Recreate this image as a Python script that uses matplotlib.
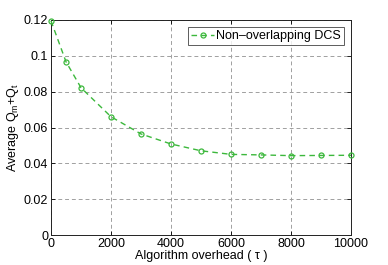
import matplotlib
matplotlib.use("Agg")
import matplotlib.pyplot as plt
import numpy as np

plt.rcParams['font.family'] = ['Liberation Sans', 'DejaVu Sans']
plt.rcParams['mathtext.fontset'] = 'custom'
plt.rcParams['mathtext.rm'] = 'Liberation Sans'
plt.rcParams['mathtext.it'] = 'Liberation Sans'

overhead = [0, 500, 1000, 2000, 3000, 4000, 5000, 6000, 7000, 8000, 9000, 10000]
avg_q = [0.1195, 0.0967, 0.0822, 0.0660, 0.0564, 0.0508, 0.0470, 0.0450, 0.0447, 0.0443, 0.0444, 0.0445]
xticks = [0, 2000, 4000, 6000, 8000, 10000]
yticks = [0, 0.02, 0.04, 0.06, 0.08, 0.1, 0.12]
ytick_labels = ['0', '0.02', '0.04', '0.06', '0.08', '0.1', '0.12']

fig = plt.figure(figsize=(3.88, 2.65), dpi=100)
ax = fig.add_axes([51/388, 1-235/265, 300/388, 215/265])

green = '#3cb83c'
ax.plot(overhead, avg_q, linestyle=(0, (4, 3)), color=green, linewidth=1.0,
        marker='o', markersize=3.6, markerfacecolor='none', markeredgecolor=green,
        markeredgewidth=0.9, label='Non\u2013overlapping DCS', clip_on=False, zorder=3)

ax.set_xlim(0, 10000)
ax.set_ylim(0, 0.12)
ax.set_xticks(xticks)
ax.set_xticklabels([str(t) for t in xticks])
ax.set_yticks(yticks)
ax.set_yticklabels(ytick_labels)
ax.tick_params(direction='in', length=3, width=0.6, labelsize=9, top=True, right=True, pad=2)
ax.grid(True, linestyle=(0, (4, 3)), color='#a0a0a0', linewidth=0.7)
for s in ax.spines.values():
    s.set_linewidth(0.7)
    s.set_color('#222222')

ax.set_xlabel('Algorithm overhead ( \u03c4 )', fontsize=9, labelpad=0)
ax.set_ylabel('Average Q$_m$+Q$_t$', fontsize=9, labelpad=2)

leg = ax.legend(loc='upper right', fontsize=9, frameon=True, fancybox=False,
                edgecolor='#333333', borderpad=0.25, handlelength=1.8, handletextpad=0.2,
                borderaxespad=0.55)
leg.get_frame().set_linewidth(0.7)

fig.savefig('out.png', dpi=100)
